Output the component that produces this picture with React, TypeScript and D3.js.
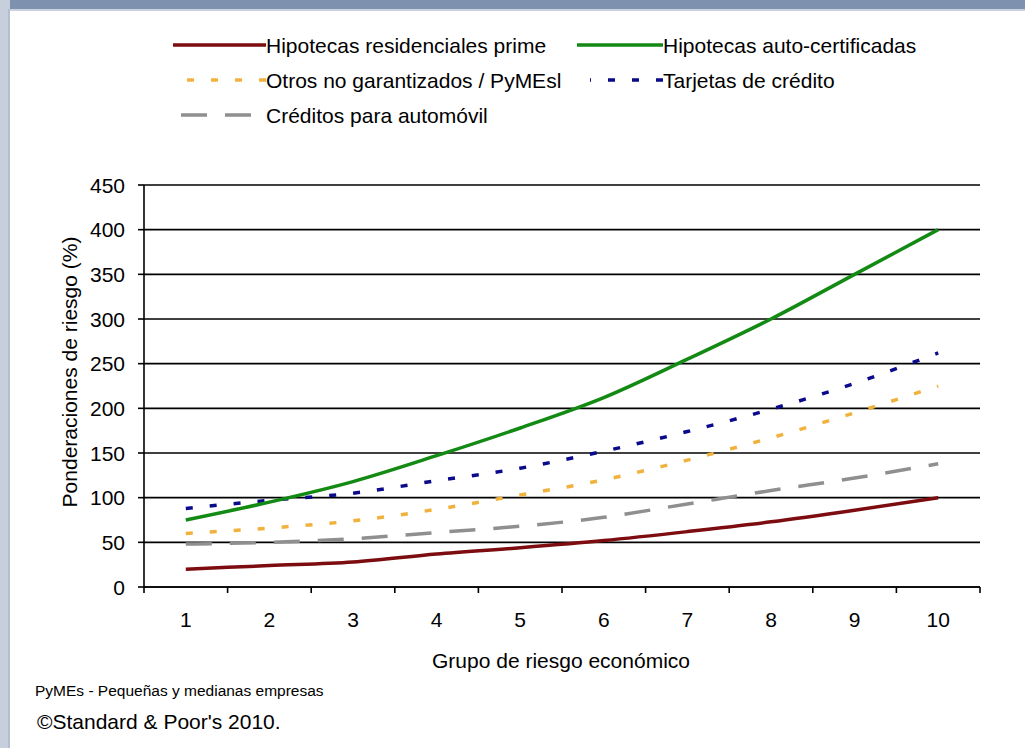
import React from "react";
import * as d3 from "d3";

const categories = ["1", "2", "3", "4", "5", "6", "7", "8", "9", "10"];
const yTicks = [0, 50, 100, 150, 200, 250, 300, 350, 400, 450];

const primeValues = [20, 24, 28, 37, 44, 52, 62, 73, 86, 100];
const autoCertValues = [75, 95, 118, 147, 178, 212, 255, 300, 350, 400];
const otrosValues = [60, 66, 74, 87, 103, 120, 142, 167, 195, 225];
const tarjetasValues = [88, 97, 105, 119, 133, 152, 174, 199, 228, 262];
const autoValues = [48, 50, 54, 61, 68, 78, 93, 108, 122, 138];

const seriesNames = [
  "Hipotecas residenciales prime",
  "Hipotecas auto-certificadas",
  "Otros no garantizados / PyMEsl",
  "Tarjetas de crédito",
  "Créditos para automóvil",
];

const FONT = "'Liberation Sans', Arial, sans-serif";

export default function App() {
  const W = 1025;
  const H = 748;
  const left = 144;
  const right = 980;
  const top = 185;
  const bottom = 587;
  const FS = 21;

  const x = d3.scaleBand<string>().domain(categories).range([left, right]).padding(0);
  const y = d3.scaleLinear().domain([0, 450]).range([bottom, top]);
  const cx = (i: number) => (x(categories[i]) as number) + x.bandwidth() / 2;

  const line = d3
    .line<number>()
    .x((_, i) => cx(i))
    .y((v) => y(v))
    .curve(d3.curveMonotoneX);

  const series = [
    { name: seriesNames[0], values: primeValues, color: "#7d0c10", dash: "" },
    { name: seriesNames[1], values: autoCertValues, color: "#138a13", dash: "" },
    { name: seriesNames[2], values: otrosValues, color: "#f0b23c", dash: "7 17" },
    { name: seriesNames[3], values: tarjetasValues, color: "#0a0a8c", dash: "7 17" },
    { name: seriesNames[4], values: autoValues, color: "#8f8f8f", dash: "26 18" },
  ];

  const drawOrder = [4, 2, 3, 0, 1];

  const legend = [
    { s: 0, x1: 173, x2: 266, tx: 266, ty: 45 },
    { s: 1, x1: 577, x2: 663, tx: 663, ty: 45 },
    { s: 2, x1: 180, x2: 266, tx: 266, ty: 80 },
    { s: 3, x1: 590, x2: 663, tx: 663, ty: 80 },
    { s: 4, x1: 173, x2: 251, tx: 266, ty: 115 },
  ];

  const boundaries = categories.map((c) => x(c) as number).concat([right]);

  return (
    <svg
      width={W}
      height={H}
      style={{ position: "absolute", left: 0, top: 0, background: "#ffffff" }}
      fontFamily={FONT}
    >
      <rect x={0} y={0} width={W} height={H} fill="#ffffff" />
      <rect x={0} y={0} width={W} height={9} fill="#7e91ae" />
      <rect x={0} y={9} width={W} height={2} fill="#c9d2de" />
      <rect x={0} y={0} width={10} height={H} fill="#c6cfdb" />
      <rect x={8} y={9} width={2} height={H} fill="#b4bfcd" />

      {/* Gridlines */}
      {yTicks.map((t) => (
        <line key={"g" + t} x1={left} x2={right} y1={y(t)} y2={y(t)} stroke="#000" strokeWidth={1.6} />
      ))}

      {/* Y axis */}
      <line x1={left} x2={left} y1={top} y2={bottom} stroke="#000" strokeWidth={1.6} />
      {yTicks.map((t) => (
        <g key={"yt" + t}>
          <line x1={left - 6} x2={left} y1={y(t)} y2={y(t)} stroke="#000" strokeWidth={1.6} />
          <text x={125} y={y(t)} textAnchor="end" dominantBaseline="central" fontSize={FS} fill="#000">
            {t}
          </text>
        </g>
      ))}

      {/* X axis */}
      <line x1={left} x2={right} y1={bottom} y2={bottom} stroke="#000" strokeWidth={1.6} />
      {boundaries.map((b, i) => (
        <line key={"xt" + i} x1={b} x2={b} y1={bottom} y2={bottom + 6} stroke="#000" strokeWidth={1.6} />
      ))}
      {categories.map((c, i) => (
        <text key={"xl" + c} x={cx(i)} y={627} textAnchor="middle" fontSize={FS} fill="#000">
          {c}
        </text>
      ))}

      {/* Series */}
      {drawOrder.map((k) => {
        const s = series[k];
        return (
          <path
            key={"s" + k}
            d={line(s.values) as string}
            fill="none"
            stroke={s.color}
            strokeWidth={3.5}
            strokeDasharray={s.dash || undefined}
          />
        );
      })}

      {/* Legend */}
      {legend.map((l) => {
        const s = series[l.s];
        return (
          <g key={"lg" + l.s}>
            <line
              x1={l.x2}
              x2={l.x1}
              y1={l.ty}
              y2={l.ty}
              stroke={s.color}
              strokeWidth={3.5}
              strokeDasharray={s.dash || undefined}
            />
            <text x={l.tx} y={l.ty} dominantBaseline="central" fontSize={FS} fill="#000">
              {s.name}
            </text>
          </g>
        );
      })}

      {/* Axis titles */}
      <text
        transform={`translate(${69},${(top + bottom) / 2 - 14}) rotate(-90)`}
        textAnchor="middle"
        dominantBaseline="central"
        fontSize={FS}
        fill="#000"
      >
        Ponderaciones de riesgo (%)
      </text>
      <text x={561} y={668} textAnchor="middle" fontSize={FS} fill="#000">
        Grupo de riesgo económico
      </text>

      {/* Footnotes */}
      <text x={35} y={696} fontSize={15.5} fill="#000">
        PyMEs - Pequeñas y medianas empresas
      </text>
      <text x={37} y={729} fontSize={FS} fill="#000">
        ©Standard &amp; Poor's 2010.
      </text>
    </svg>
  );
}
